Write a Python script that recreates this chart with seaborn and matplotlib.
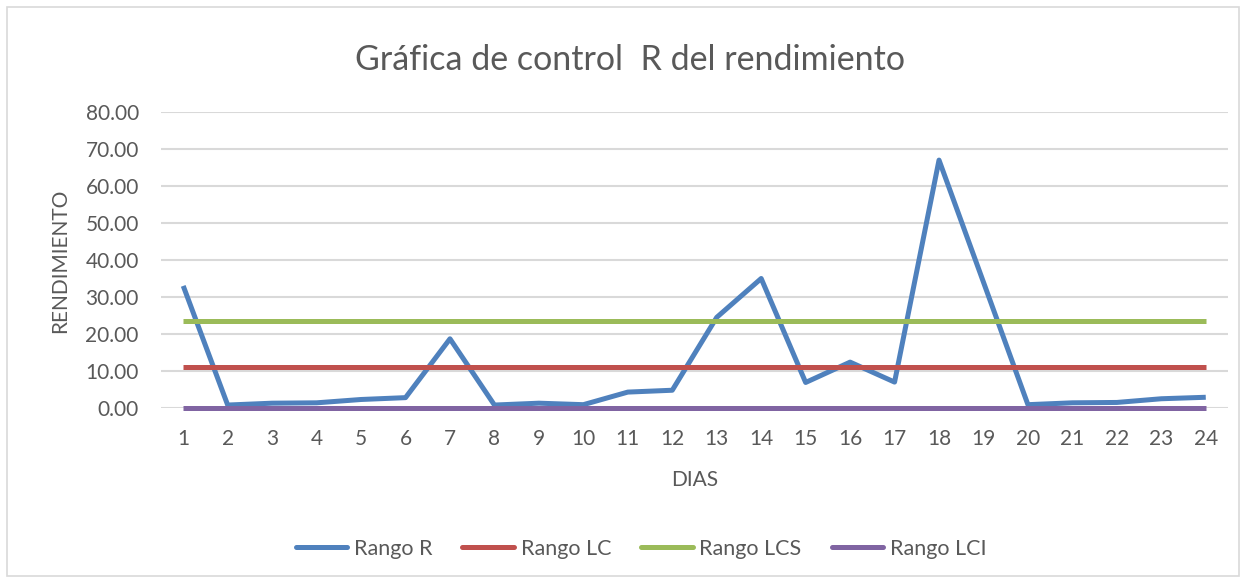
import matplotlib
matplotlib.use("Agg")
import matplotlib.pyplot as plt
import seaborn as sns
import pandas as pd
from matplotlib.patches import Rectangle

dias = list(range(1, 25))
rango_r = [33.0, 0.8, 1.3, 1.4, 2.3, 2.8, 18.7, 0.8, 1.3, 0.9, 4.3, 4.8,
           24.5, 35.0, 6.9, 12.4, 7.0, 67.0, 34.0, 0.9, 1.4, 1.5, 2.5, 2.9]
rango_lc = [11.0] * 24
rango_lcs = [23.5] * 24
rango_lci = [0.0] * 24

series_names = ["Rango R", "Rango LC", "Rango LCS", "Rango LCI"]
series_colors = ["#4F81BD", "#C0504D", "#9BBB59", "#8064A2"]
y_ticks = [0, 10, 20, 30, 40, 50, 60, 70, 80]

df = pd.concat([
    pd.DataFrame({"DIAS": dias, "valor": vals, "serie": name})
    for name, vals in zip(series_names, [rango_r, rango_lc, rango_lcs, rango_lci])
])

sns.set_theme(style="white")
plt.rcParams["font.family"] = ["Lato", "DejaVu Sans"]
text_color = "#595959"

W, H = 1246, 583
fig = plt.figure(figsize=(W / 100, H / 100), dpi=100)
ax = fig.add_axes([161 / W, 1 - 408 / H, (1228 - 161) / W, (408 - 112) / H])

sns.lineplot(data=df, x="DIAS", y="valor", hue="serie", hue_order=series_names,
             palette=dict(zip(series_names, series_colors)), linewidth=3.6,
             ax=ax, legend=False, sort=False)
for ln in ax.lines:
    ln.set_clip_on(False)
    ln.set_zorder(3)
    ln.set_solid_capstyle("butt")

ax.set_xlim(0.5, 24.5)
ax.set_ylim(0, 80)
ax.set_yticks(y_ticks)
ax.set_yticklabels([f"{v:.2f}" for v in y_ticks], fontsize=15, color=text_color)
ax.set_xticks(dias)
ax.set_xticklabels([str(d) for d in dias], fontsize=15, color=text_color)
ax.tick_params(axis="y", length=0, pad=16)
ax.tick_params(axis="x", length=0, pad=15)
ax.yaxis.grid(True, color="#D9D9D9", linewidth=1.5)
ax.set_axisbelow(True)
for s in ["top", "right", "left", "bottom"]:
    ax.spines[s].set_visible(False)

ax.set_xlabel("DIAS", fontsize=15, color=text_color, va="center")
ax.xaxis.set_label_coords(0.5, (408 - 480) / 296)
ax.set_ylabel("RENDIMIENTO", fontsize=15, color=text_color, va="center")
ax.yaxis.set_label_coords((60 - 161) / 1067, (408 - 261) / 296)

fig.text(630 / W, 1 - 60 / H, "Gráfica de control  R del rendimiento", ha="center",
         va="center", fontsize=24.5, color=text_color)

handles = [plt.Line2D([], [], color=c, linewidth=3.6) for c in series_colors]
fig.legend(handles, series_names, loc="center", bbox_to_anchor=(641 / W, 1 - 549 / H),
           ncol=4, frameon=False, fontsize=15.5, handlelength=2.4, columnspacing=1.4,
           handletextpad=0.3, labelcolor=text_color)

fig.patches.append(Rectangle((7 / W, 7 / H), (W - 14) / W, (H - 14) / H,
                             transform=fig.transFigure, fill=False,
                             edgecolor="#D9D9D9", linewidth=1.2))

fig.savefig("out.png", dpi=100, facecolor="white")
